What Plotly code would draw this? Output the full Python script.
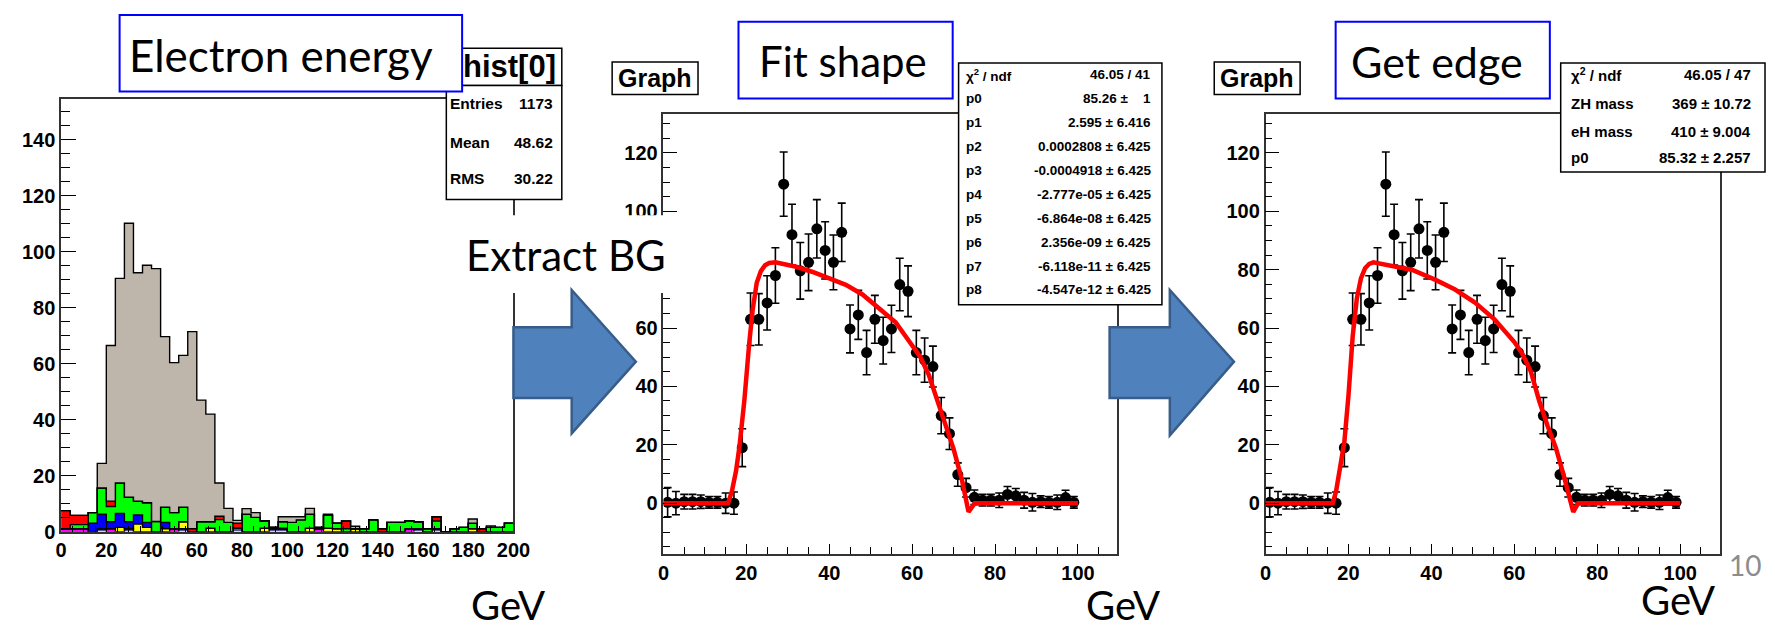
import plotly.graph_objects as go

W, H = 1775, 625

# ---------------- data: left stacked histogram (4 GeV bins, 0-200 GeV) ----------------
bin_edges = [0, 4, 8, 12, 16, 20, 24, 28, 32, 36, 40, 44, 48, 52, 56, 60, 64, 68, 72, 76,
             80, 84, 88, 92, 96, 100, 104, 108, 112, 116, 120, 124, 128, 132, 136, 140, 144,
             148, 152, 156, 160, 164, 168, 172, 176, 180, 184, 188, 192, 196, 200]
slate = [0, 0, 0, 0, 1, 0, 0, 1, 0, 0, 0, 0, 0, 1, 0, 0, 0, 0, 0, 1.3,
         0, 0, 0, 1, 1, 0, 0, 0, 0, 0, 0, 0, 0, 0, 0, 0, 0, 0, 0, 1,
         0, 1, 0, 0, 0, 0, 0, 0, 0, 0]
magenta = [1, 1, 1, 0, 0, 1, 0, 0, 0, 0, 0, 0, 1, 0, 0, 0, 0, 0, 0, 0,
           0, 0, 0, 0, 0, 0, 0, 0, 1, 0, 0, 0, 0, 0, 0, 0, 0, 0, 1, 0,
           0, 0, 0, 0, 0, 0, 0, 0, 0, 0]
yellow = [0, 0, 0, 0, 0, 0, 1.5, 0, 2.7, 1.5, 0, 1, 0, 2.5, 0, 0, 1.2, 0, 0, 0,
          0, 0, 1.2, 0, 0, 0, 0, 1.2, 0, 1.2, 1, 0, 1, 0, 0, 0, 0, 0, 0, 0,
          0, 0, 0, 0, 0, 1, 0, 0, 0, 0]
blue = [0, 0, 0, 3, 5.2, 2.5, 5, 2.5, 3.3, 1.8, 0, 2.3, 0, 0, 0, 0, 0, 0, 0, 0,
        0, 0, 0, 0.5, 0.2, 0, 0, 0, 0, 0, 0, 0, 0, 0, 0, 0, 0, 0, 0, 0,
        0, 0, 0, 0, 0, 0, 0, 0, 0, 0]
green = [0, 1.5, 1.5, 3.8, 9.4, 5.5, 10.9, 8.8, 4.9, 7, 3.6, 5.4, 5.8, 5.2, 0, 3.5, 2.3, 4.3, 3.3, 0,
         6.2, 5.1, 2.6, 0, 2.3, 3.3, 4.2, 5, 0.5, 4.6, 2, 1, 0, 1, 4.2, 0, 3.3, 3.3, 2.8, 2.5,
         1, 2.8, 0, 1, 1.5, 2, 0, 1.5, 1.5, 3]
red = [6.5, 3.3, 3.3, 0, 0, 1.9, 0, 0, 0, 0, 0, 0, 0, 0, 1, 0, 0, 1.2, 0, 1.7,
       0, 0, 0, 0, 0, 0, 0, 0, 0, 0, 0, 2.8, 0, 0, 0, 1, 0, 0, 0, 0,
       0, 1.5, 0, 0, 0, 0, 1, 0, 0, 0]
signal = [0, 0, 0, 0, 8.8, 55.6, 73.1, 97.9, 81.6, 84.9, 90.4, 61, 53.6, 54.3, 70.5, 43.5, 38.5, 11.9, 5, 1,
          2, 1.7, 0, 0, 1.8, 2, 1.1, 2.1, 0, 0.4, 0, 0, 0.9, 0, 0, 0, 0, 0, 0, 0,
          0, 0, 0, 0, 0, 1.5, 0, 0.5, 0, 0]
layers = [("slate", slate, "#55559F"), ("magenta", magenta, "#FF00FF"), ("yellow", yellow, "#FFFF00"),
          ("blue", blue, "#0000FF"), ("green", green, "#00FF00"), ("red", red, "#FF0000"),
          ("signal", signal, "#BFB6AB")]

# ---------------- data: background-subtracted graph ----------------
gx = [1, 3, 5, 7, 9, 11, 13, 15, 17, 19, 21, 23, 25, 27, 29, 31, 33, 35, 37, 39,
      41, 43, 45, 47, 49, 51, 53, 55, 57, 59, 61, 63, 65, 67, 69, 71, 73, 75, 77, 79,
      81, 83, 85, 87, 89, 91, 93, 95, 97, 99]
gy = [0.3, 0, 0.5, 0.5, 0.5, 0.3, 0.3, 0, 0, 19, 63, 63, 68.6, 78, 109.3, 92, 79.6, 82.5, 94, 86.6,
      82.5, 92.8, 59.7, 64.5, 51.6, 63, 55.7, 59.7, 74.9, 72.6, 51.6, 49, 46.8, 30, 23.8, 9.8, 5.3, 2, 1, 1,
      1, 3, 2.5, 1, 0.3, 0.5, 0.3, 0.3, 1.9, 0.3]
gerr = [5, 4, 2.5, 2.5, 2.3, 2, 2, 3.5, 3.8, 6.5, 9, 8.8, 9.3, 9.5, 11, 10.4, 9.7, 9.7, 10, 9.8,
        9.4, 10, 8.2, 8.4, 7.6, 8.2, 8, 8.1, 9, 8.7, 7.6, 7.6, 7, 6.2, 5.4, 4, 3.2, 2.5, 2, 2,
        2.5, 2.7, 2.5, 2.7, 3, 2, 2, 2.5, 2.5, 2]

# polynomial fit (middle) and edge fit (right)
fit1_x = [0, 15.6, 16.5, 17.5, 18.3, 19.5, 20.7, 21.5, 22.5, 23.5, 24.5, 25.5, 27, 29, 32, 36, 40, 44, 48,
          52, 56, 60, 62, 64, 66, 68, 70, 72, 73.6, 75.1, 80, 90, 100]
fit1_y = [0, 0, 4, 11, 19, 35, 55, 66, 75.5, 79.5, 81.5, 82.3, 82.5, 82, 81, 79.2, 77.1, 74.8, 71.5,
          66.8, 62, 54, 50, 44, 35, 27, 18.5, 8, -3, 0, 0, 0, 0]
fit2_x = [0, 16.2, 17, 18, 19, 20, 21, 22, 23, 24, 25, 26, 30, 35.4, 41, 45.7, 50.5, 55.2, 60, 62,
          64, 66, 68, 70, 72, 74.2, 75.4, 80, 90, 100]
fit2_y = [0, 0, 4, 12, 21, 37, 57, 70, 77, 80.5, 82, 82.5, 81.4, 79.9, 76.5, 73.2, 68.7, 63, 55.2, 51,
          45, 35, 26.5, 19, 9, -3, 0, 0, 0, 0]

hist_stats = [("Entries", "1173"), ("Mean", "48.62"), ("RMS", "30.22")]
fit_stats = [("χ<sup>2</sup> / ndf", "46.05 / 41"), ("p0", "85.26 ±\u00a0\u00a0\u00a0\u00a01"),
             ("p1", "2.595 ± 6.416"), ("p2", "0.0002808 ± 6.425"), ("p3", "-0.0004918 ± 6.425"),
             ("p4", "-2.777e-05 ± 6.425"), ("p5", "-6.864e-08 ± 6.425"), ("p6", "2.356e-09 ± 6.425"),
             ("p7", "-6.118e-11 ± 6.425"), ("p8", "-4.547e-12 ± 6.425")]
edge_stats = [("χ<sup>2</sup> / ndf", "46.05 / 47"), ("ZH mass", "369 ± 10.72"),
              ("eH mass", "410 ± 9.004"), ("p0", "85.32 ± 2.257")]

# ---------------- helpers ----------------
def X(px):
    return px / W

def Y(py):
    return 1 - py / H

fig = go.Figure()

# left histogram as stacked, filled step outlines
cum = [0.0] * len(signal)
for i, (name, vals, col) in enumerate(layers):
    cum = [c + v for c, v in zip(cum, vals)]
    fig.add_trace(go.Scatter(
        x=bin_edges, y=cum + [cum[-1]], mode="lines", line=dict(shape="hv", color="black", width=1.4),
        fill="tozeroy" if i == 0 else "tonexty", fillcolor=col, xaxis="x", yaxis="y",
        showlegend=False, hoverinfo="skip"))

# middle and right graphs
for xa, ya, fx, fy in (("x2", "y2", fit1_x, fit1_y), ("x3", "y3", fit2_x, fit2_y)):
    fig.add_trace(go.Scatter(
        x=gx, y=gy, mode="markers", marker=dict(color="black", size=11),
        error_y=dict(type="data", array=gerr, color="black", thickness=1.6, width=4),
        xaxis=xa, yaxis=ya, showlegend=False))
    fig.add_trace(go.Scatter(
        x=fx, y=fy, mode="lines", line=dict(color="#FF0000", width=4.5),
        xaxis=xa, yaxis=ya, showlegend=False))

tick_font = dict(family="Liberation Sans", size=20, color="black", weight="bold")

def axis(domain, rng, dtick, minor_dtick, major_len, minor_len, **kw):
    return dict(domain=domain, range=rng, dtick=dtick, tick0=0, ticks="inside", ticklen=major_len,
                tickwidth=1.4, tickcolor="black", showline=True, linecolor="#333333", linewidth=1.6,
                mirror=True, showgrid=False, zeroline=False, tickfont=tick_font,
                minor=dict(dtick=minor_dtick, tick0=0, ticks="inside", ticklen=minor_len,
                           tickwidth=1.3, tickcolor="black", showgrid=False), **kw)

layout = dict(
    width=W, height=H, margin=dict(l=0, r=0, t=0, b=0), autosize=False,
    paper_bgcolor="white", plot_bgcolor="white", showlegend=False,
    xaxis=axis([X(47.7), X(506)], [0, 200], 20, 5, 10, 6, anchor="y"),
    yaxis=axis([Y(533), Y(93)], [0, 154.5], 20, 5, 15, 9, anchor="x"),
    xaxis2=axis([X(658), X(1117)], [0, 109.3], 20, 5, 10, 7, anchor="y2"),
    yaxis2=axis([Y(556), Y(108)], [-17.5, 133.3], 20, 5, 14, 7, anchor="x2"),
    xaxis3=axis([X(1268), X(1728)], [0, 109.5], 20, 5, 10, 7, anchor="y3"),
    yaxis3=axis([Y(556), Y(108)], [-17.5, 133.3], 20, 5, 14, 7, anchor="x3"),
)

shapes = []

def rect(x0, y0, x1, y1, color="black", lw=1.5, fill="white"):
    shapes.append(dict(type="rect", xref="paper", yref="paper", x0=X(x0), x1=X(x1), y0=Y(y1), y1=Y(y0),
                       line=dict(color=color, width=lw), fillcolor=fill, layer="above"))

def arrow(xl, xh, xt, ys0, ys1, yh0, yh1, ym):
    pts = [(xl, ys0), (xh, ys0), (xh, yh0), (xt, ym), (xh, yh1), (xh, ys1), (xl, ys1)]
    path = "M " + " L ".join(f"{X(a):.5f},{Y(b):.5f}" for a, b in pts) + " Z"
    shapes.append(dict(type="path", xref="paper", yref="paper", path=path, fillcolor="#4F81BD",
                       line=dict(color="#385D8A", width=2.5), layer="above"))

# stats boxes and labels
rect(438, 41, 555, 79)
rect(438, 79, 555, 195)
rect(107, 7, 454, 85, color="#0000FF", lw=2)
rect(606, 55, 693, 88)
rect(734, 14, 951, 92, color="#0000FF", lw=2)
rect(957, 56, 1163, 302)
rect(1216, 55, 1303, 88)
rect(1339, 14, 1556, 92, color="#0000FF", lw=2)
rect(1567, 56, 1774, 167)
rect(462, 211, 672, 290, color="white", lw=0)
arrow(506, 565, 630, 325, 397, 287, 433, 360)
arrow(1110, 1171, 1236, 325, 397, 287, 435, 360)
layout["shapes"] = shapes

ann = []

def text(px, py, s, size, family="Liberation Sans", bold=True, xanchor="center", color="black"):
    ann.append(dict(x=X(px), y=Y(py), xref="paper", yref="paper", text=s, showarrow=False,
                    xanchor=xanchor, yanchor="middle",
                    font=dict(family=family, size=size, color=color, weight="bold" if bold else "normal")))

slide = "Lato"
text(271, 48, "Electron energy", 44, family=slide, bold=False)
text(840, 54, "Fit shape", 42, family=slide, bold=False)
text(1442, 54, "Get edge", 43, family=slide, bold=False)
text(456, 251, "Extract BG", 42, family=slide, bold=False, xanchor="left")
text(500, 608, "GeV", 40, family=slide, bold=False)
text(1124, 608, "GeV", 40, family=slide, bold=False)
text(1686, 603, "GeV", 40, family=slide, bold=False)
text(1735, 567, "10", 28, family=slide, bold=False, xanchor="left", color="#8C8C8C")

text(502, 60, "hist[0]", 31)
for (lab, val), yy in zip(hist_stats, [97, 137, 174]):
    text(440, yy, lab, 15.5, xanchor="left")
    text(548, yy, val, 15.5, xanchor="right")

text(649.5, 71.5, "Graph", 25)
text(1259.5, 71.5, "Graph", 25)

for (lab, val), yy in zip(fit_stats, [68, 92, 117, 141, 165, 190, 214, 239, 263, 287]):
    text(962, yy, lab, 13.5, xanchor="left")
    text(1154, yy, val, 13.5, xanchor="right")

for (lab, val), yy in zip(edge_stats, [68, 97, 126, 152]):
    text(1575, yy, lab, 15, xanchor="left")
    text(1762, yy, val, 15, xanchor="right")

layout["annotations"] = ann
fig.update_layout(**layout)
fig.write_html("out.html")
